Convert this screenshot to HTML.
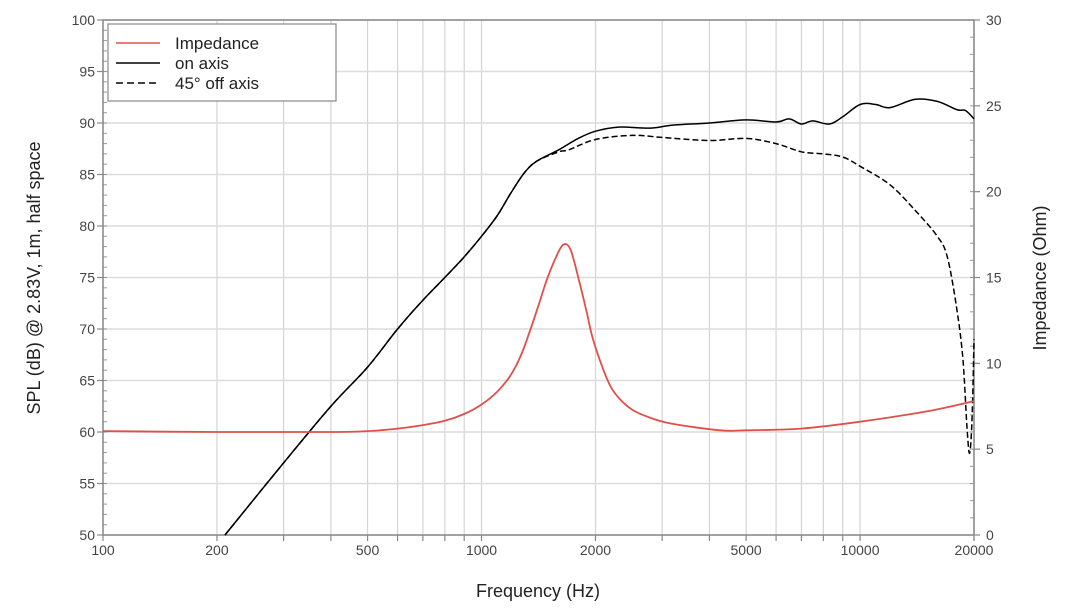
<!DOCTYPE html>
<html><head><meta charset="utf-8"><style>
html,body{margin:0;padding:0;background:#fff;}
svg{display:block;font-family:"Liberation Sans",Arial,sans-serif;}
</style></head><body>
<svg id="chart" width="1070" height="616" viewBox="0 0 1070 616" xmlns="http://www.w3.org/2000/svg">
<g id="grid"></g>
<g id="axes"></g>
<g id="series"></g>
<g>
<rect x="108" y="24" width="228" height="77" fill="#fff" stroke="#888" stroke-width="1.2"/>
<line x1="116" y1="43" x2="160" y2="43" stroke="#e0504a" stroke-width="1.5"/>
<text x="175" y="49" font-size="17" fill="#222">Impedance</text>
<line x1="116" y1="63" x2="160" y2="63" stroke="#000" stroke-width="1.5"/>
<text x="175" y="69" font-size="17" fill="#222">on axis</text>
<line x1="116" y1="83" x2="160" y2="83" stroke="#000" stroke-width="1.5" stroke-dasharray="7,4"/>
<text x="175" y="89" font-size="17" fill="#222">45° off axis</text>
</g>
<text x="538" y="597" font-size="18" text-anchor="middle" fill="#222">Frequency (Hz)</text>
<text transform="translate(40,278) rotate(-90)" font-size="18" text-anchor="middle" fill="#222">SPL (dB) @ 2.83V, 1m, half space</text>
<text transform="translate(1046,278) rotate(-90)" font-size="18" text-anchor="middle" fill="#222">Impedance (Ohm)</text>
</svg>
<script>
const xTickLabels=[100,200,500,1000,2000,5000,10000,20000];
const yLeftTicks=[50,55,60,65,70,75,80,85,90,95,100];
const yRightTicks=[0,5,10,15,20,25,30];
const impFreq=[100,200,300,400,500,600,700,800,900,1000,1100,1189,1270,1343,1420,1489,1560,1641,1720,1820,1900,1970,2100,2200,2323,2500,2700,3150,4267,5000,7000,10000,15000,20000];
const impOhm=[6.05,6.0,6.0,6.0,6.05,6.2,6.4,6.65,7.05,7.6,8.35,9.25,10.45,11.9,13.5,14.9,16.0,16.9,16.6,14.6,12.9,11.4,9.6,8.6,7.9,7.3,6.95,6.5,6.1,6.1,6.2,6.6,7.2,7.8];
const onFreq=[210,300,400,500,600,700,800,900,1000,1100,1200,1300,1400,1600,1800,2000,2300,2800,3200,4000,5000,6000,6500,7000,7500,8300,9000,10000,11000,12000,14000,16000,18000,19000,20000];
const onDb=[50,57,62.5,66.3,70,72.8,75,77,79,81,83.3,85.2,86.3,87.4,88.5,89.2,89.6,89.5,89.8,90,90.3,90.1,90.4,89.9,90.2,89.9,90.6,91.8,91.8,91.5,92.3,92.1,91.3,91.2,90.4];
const offFreq=[210,300,400,500,600,700,800,900,1000,1100,1200,1300,1400,1600,1700,2000,2500,3000,4000,5000,6000,7000,8000,9000,10000,12000,14000,16000,17000,18000,18700,19200,19500,19800,20000];
const offDb=[50,57,62.5,66.3,70,72.8,75,77,79,81,83.3,85.2,86.3,87.2,87.4,88.4,88.8,88.6,88.3,88.5,88,87.2,87,86.7,85.8,84,81.5,79,77,72,67,60,58,62,69];

const L=103,R=974,T=20,B=535;
const NS="http://www.w3.org/2000/svg";
function X(f){return L+(Math.log10(f)-2)/Math.log10(200)*(R-L);}
function YL(d){return B-(d-50)/50*(B-T);}
function YR(o){return B-o/30*(B-T);}
function mk(tag,attrs,parent){const e=document.createElementNS(NS,tag);for(const k in attrs)e.setAttribute(k,attrs[k]);parent.appendChild(e);return e;}
const grid=document.getElementById('grid'),axes=document.getElementById('axes'),series=document.getElementById('series');
const vg=[];for(let d=100;d<=10000;d*=10)for(let m=1;m<10;m++){const f=d*m;if(f>=100&&f<=20000)vg.push(f);}vg.push(20000);
vg.forEach(f=>{const x=X(f);
const g=mk('line',{x1:x,y1:T,x2:x,y2:B,stroke:'#d4d4d4','stroke-width':1.2},grid);


const t=mk('line',{x1:x,y1:B,x2:x,y2:B+6,stroke:'#888','stroke-width':1.2},axes);

});
yLeftTicks.forEach(v=>{const y=YL(v);
const g=mk('line',{x1:L,y1:y,x2:R,y2:y,stroke:'#dcdcdc','stroke-width':1.5},grid);


const t=mk('text',{x:L-8,y:y+5,'font-size':14,'text-anchor':'end',fill:'#444'},axes);t.textContent=v;


mk('line',{x1:L-6,y1:y,x2:L,y2:y,stroke:'#888','stroke-width':1.2},axes);});
for(let v=50;v<=100;v++){const y=YL(v);mk('line',{x1:L,y1:y,x2:L+4,y2:y,stroke:'#999','stroke-width':1},axes);}
yRightTicks.forEach(v=>{const y=YR(v);
const t=mk('text',{x:R+12,y:y+5,'font-size':14,fill:'#444'},axes);t.textContent=v;


mk('line',{x1:R,y1:y,x2:R+6,y2:y,stroke:'#888','stroke-width':1.2},axes);});
for(let v=0;v<=30;v++){const y=YR(v);mk('line',{x1:R-4,y1:y,x2:R,y2:y,stroke:'#999','stroke-width':1},axes);}
xTickLabels.forEach(f=>{const t=mk('text',{x:X(f),y:B+20,'font-size':14,'text-anchor':'middle',fill:'#444'},axes);t.textContent=f;

});
const fr=mk('rect',{x:L,y:T,width:R-L,height:B-T,fill:'none',stroke:'#888','stroke-width':1.5},axes);


function path(fs,vs,yf,attrs,name){
const P=fs.map((f,i)=>[X(f),yf(vs[i])]);
let d='M'+P[0][0].toFixed(1)+','+P[0][1].toFixed(1);
for(let i=0;i<P.length-1;i++){const p0=P[Math.max(0,i-1)],p1=P[i],p2=P[i+1],p3=P[Math.min(P.length-1,i+2)];
const c1=[p1[0]+(p2[0]-p0[0])/6,p1[1]+(p2[1]-p0[1])/6],c2=[p2[0]-(p3[0]-p1[0])/6,p2[1]-(p3[1]-p1[1])/6];
d+=' C'+c1.map(v=>v.toFixed(1)).join(',')+' '+c2.map(v=>v.toFixed(1)).join(',')+' '+p2.map(v=>v.toFixed(1)).join(',');}
const p=mk('path',Object.assign({d:d,fill:'none','stroke-linejoin':'round'},attrs),series);

}
path(offFreq,offDb,YL,{stroke:'#000','stroke-width':1.5,'stroke-dasharray':'6,3'},'off-axis-line');
path(onFreq,onDb,YL,{stroke:'#000','stroke-width':1.5},'on-axis-line');
path(impFreq,impOhm,YR,{stroke:'#e0504a','stroke-width':1.8},'impedance-line');
</script>
</body></html>
